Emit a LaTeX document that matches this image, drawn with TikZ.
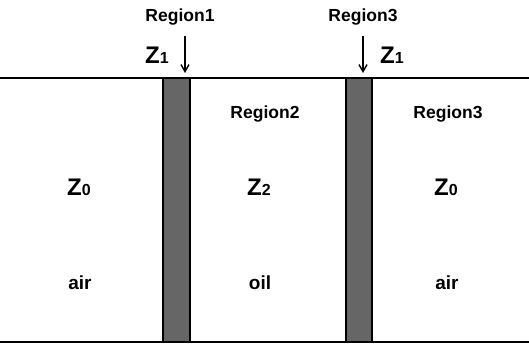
\documentclass[tikz,border=0pt]{standalone}
\usepackage{fontspec}
\setmainfont{Liberation Sans}
\usetikzlibrary{arrows.meta}
\begin{document}
\begin{tikzpicture}[x=1pt,y=1pt,
  lbl/.style={font=\fontsize{17.5}{19}\selectfont\bfseries, inner sep=0pt},
  mlbl/.style={font=\fontsize{19}{21}\selectfont\bfseries, inner sep=0pt},
  zlbl/.style={font=\fontsize{24}{26}\selectfont\bfseries, inner sep=0pt},
  wall/.style={draw=black, line width=1.2pt, fill=black!60},
  arr/.style={-{Straight Barb[length=7pt,width=8pt]}, line width=1.4pt}]
\useasboundingbox (0,0) rectangle (529,344);
\newcommand{\zsub}[1]{Z{\fontsize{16}{18}\selectfont #1}}
% walls
\draw[wall] (163,2) rectangle (190,266);
\draw[wall] (346,2) rectangle (372,266);
% boundary lines
\coordinate (tl) at (0,266); \coordinate (tr) at (529,266);
\coordinate (bl) at (0,2); \coordinate (br) at (529,2);
\draw[line width=1.2pt] (tl) -- (tr);
\draw[line width=1.2pt] (bl) -- (br);
% top labels
\node[lbl] (r1) at (180,327) {Region1};
\node[lbl] (r3t) at (363,327) {Region3};
\node[zlbl] (z1a) at (157,289) {\zsub{1}};
\node[zlbl] (z1b) at (392,289) {\zsub{1}};
\coordinate (a1s) at (185,308); \coordinate (a1e) at (185,271);
\coordinate (a2s) at (363,308); \coordinate (a2e) at (363,271);
\draw[arr] (a1s) -- (a1e);
\draw[arr] (a2s) -- (a2e);
% region labels
\node[lbl] (r2) at (265,230) {Region2};
\node[lbl] (r3) at (448,230) {Region3};
\node[zlbl] (z0a) at (79,157) {\zsub{0}};
\node[zlbl] (z2) at (259,157) {\zsub{2}};
\node[zlbl] (z0b) at (446,157) {\zsub{0}};
\node[mlbl] (air1) at (80,61) {air};
\node[mlbl] (oil) at (260,61) {oil};
\node[mlbl] (air2) at (447,61) {air};
\end{tikzpicture}
\end{document}
